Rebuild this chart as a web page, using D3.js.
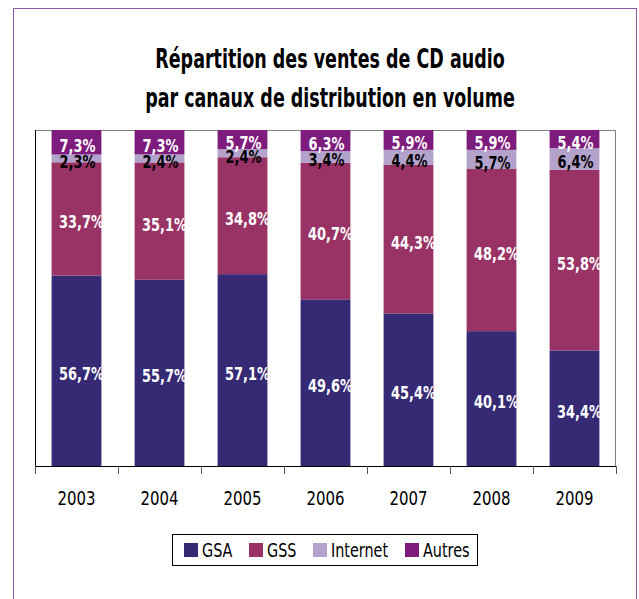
<!DOCTYPE html>
<html>
<head>
<meta charset="utf-8">
<script src="https://cdn.jsdelivr.net/npm/d3@7"></script>
<style>
  body { margin: 0; background: #fff; }
  text { font-family: "Liberation Sans Narrow", "DejaVu Sans Condensed", sans-serif; }
</style>
</head>
<body>
<div id="main"></div>
<script>
// donnees du graphique
var years = ["2003", "2004", "2005", "2006", "2007", "2008", "2009"];
var series = ["GSA", "GSS", "Internet", "Autres"];
var gsa = [56.7, 55.7, 57.1, 49.6, 45.4, 40.1, 34.4];
var gss = [33.7, 35.1, 34.8, 40.7, 44.3, 48.2, 53.8];
var internet = [2.3, 2.4, 2.4, 3.4, 4.4, 5.7, 6.4];
var autres = [7.3, 7.3, 5.7, 6.3, 5.9, 5.9, 5.4];
var colors = ["#372a74", "#993366", "#b3a2cb", "#7e1c7e"];
var labelColors = ["#fff", "#fff", "#000", "#fff"];
var labelShift = [5, 5, 1, 1];

var width = 639, height = 599;
var plotLeft = 35, plotRight = 616, plotTop = 130, plotBottom = 466;

var rows = years.map(function (y, i) {
    return { year: y, GSA: gsa[i], GSS: gss[i], Internet: internet[i], Autres: autres[i] };
});

var svg = d3.select("#main").append("svg")
    .attr("width", width)
    .attr("height", height);

// texte condense : on ecrase horizontalement
function narrowText(parent, x, y, sx, txt) {
    return parent.append("g")
        .attr("transform", "translate(" + x + "," + y + ") scale(" + sx + ",1)")
        .append("text")
        .text(txt);
}

// cadre exterieur
svg.append("rect")
    .attr("x", 13.5).attr("y", 8.5)
    .attr("width", 623).attr("height", 600)
    .attr("fill", "none")
    .attr("stroke", "#8c5ca8")
    .attr("stroke-width", 1);

// titre
var title = svg.append("g")
    .attr("transform", "translate(330,0) scale(0.72,1)")
    .append("text")
    .attr("text-anchor", "middle")
    .attr("font-weight", "bold")
    .attr("font-size", 27)
    .attr("fill", "#000");
title.append("tspan").attr("x", 0).attr("y", 68).text("Répartition des ventes de CD audio");
title.append("tspan").attr("x", 0).attr("y", 107).text("par canaux de distribution en volume");

var x = d3.scaleBand()
    .domain(years)
    .range([plotLeft, plotRight])
    .paddingInner(0.4)
    .paddingOuter(0.2);

var y = d3.scaleLinear()
    .domain([0, 1])
    .range([plotBottom, plotTop]);

var stack = d3.stack()
    .keys(series)
    .offset(d3.stackOffsetExpand);
var stacked = stack(rows);

// cadre du graphe
svg.append("line").attr("x1", plotLeft).attr("x2", plotRight).attr("y1", plotTop + 0.5).attr("y2", plotTop + 0.5)
    .attr("stroke", "#808080");
svg.append("line").attr("x1", plotRight - 0.5).attr("x2", plotRight - 0.5).attr("y1", plotTop).attr("y2", plotBottom)
    .attr("stroke", "#808080");
svg.append("line").attr("x1", plotLeft + 0.5).attr("x2", plotLeft + 0.5).attr("y1", plotTop).attr("y2", plotBottom)
    .attr("stroke", "#000");

// barres
var groups = svg.append("g")
    .selectAll("g")
    .data(stacked)
    .enter()
    .append("g")
    .attr("fill", function (d, i) { return colors[i]; });

groups.selectAll("rect")
    .data(function (d) { return d; })
    .enter()
    .append("rect")
    .attr("x", function (d) { return x(d.data.year); })
    .attr("width", x.bandwidth())
    .attr("y", function (d) { return y(d[1]); })
    .attr("height", function (d) { return y(d[0]) - y(d[1]); });

// etiquettes
var labels = svg.append("g");
stacked.forEach(function (s, si) {
    s.forEach(function (d) {
        var cx = x(d.data.year) + x.bandwidth() / 2 + labelShift[si];
        var cy = (y(d[0]) + y(d[1])) / 2 + 3;
        narrowText(labels, cx, cy, 0.8, String(d.data[s.key]).replace(".", ",") + "%")
            .attr("dy", "0.36em")
            .attr("text-anchor", "middle")
            .attr("font-weight", "bold")
            .attr("font-size", 18)
            .attr("fill", labelColors[si]);
    });
});

// axe des x
var xAxis = svg.append("g")
    .attr("transform", "translate(0," + plotBottom + ")");
xAxis.append("line")
    .attr("x1", plotLeft).attr("x2", plotRight).attr("y1", 0.5).attr("y2", 0.5)
    .attr("stroke", "#000");
var step = x.step();
d3.range(years.length + 1).forEach(function (i) {
    xAxis.append("line")
        .attr("x1", plotLeft + i * step + 0.5).attr("x2", plotLeft + i * step + 0.5)
        .attr("y1", 0).attr("y2", 8)
        .attr("stroke", "#555");
});
years.forEach(function (d) {
    narrowText(xAxis, x(d) + x.bandwidth() / 2, 39, 0.83, d)
        .attr("text-anchor", "middle")
        .attr("font-size", 20)
        .attr("fill", "#000");
});

// legende
var legend = svg.append("g");
legend.append("rect")
    .attr("x", 172.5).attr("y", 534.5)
    .attr("width", 305).attr("height", 31)
    .attr("fill", "#fff")
    .attr("stroke", "#000");
var legendX = [184, 249, 313, 405];
series.forEach(function (s, i) {
    legend.append("rect")
        .attr("x", legendX[i]).attr("y", 543)
        .attr("width", 14).attr("height", 14)
        .attr("fill", colors[i]);
    narrowText(legend, legendX[i] + 18, 557, 0.8, s)
        .attr("font-size", 20)
        .attr("fill", "#000");
});
</script>
</body>
</html>
